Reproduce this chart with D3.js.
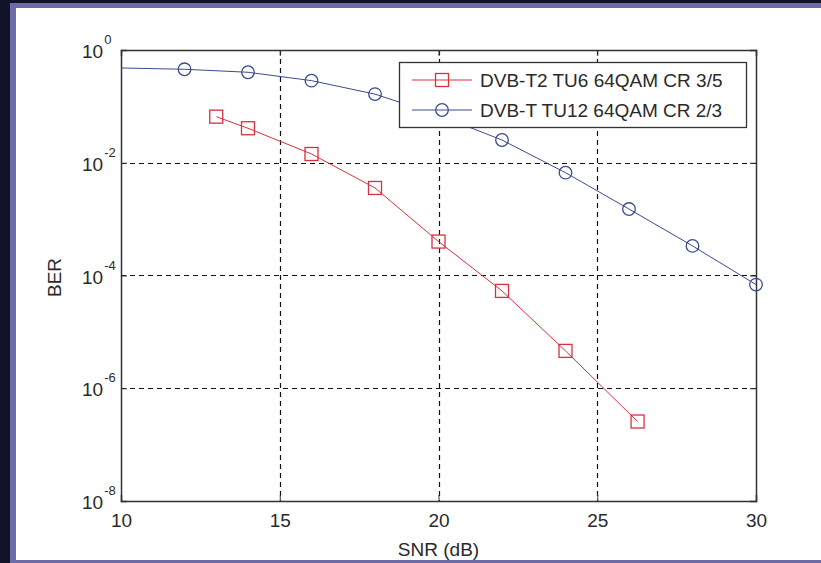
<!DOCTYPE html>
<html><head><meta charset="utf-8">
<script src="https://cdn.jsdelivr.net/npm/d3@7"></script>
<style>
html,body{margin:0;padding:0;background:#12112a;}
svg{display:block;}
text{font-family:"Liberation Sans",Arial,sans-serif;fill:#2a2a2a;}
</style></head><body>
<svg id="c" width="821" height="563"></svg>
<script>
// ---- data ----
const xTicks = [10, 15, 20, 25, 30];
const yTickExps = [0, -2, -4, -6, -8];
const redName = "DVB-T2 TU6 64QAM CR 3/5";
const redSNR = [13, 14, 16, 18, 20, 22, 24, 26.27];
const redBER = [0.0657, 0.0409, 0.0143, 3.57e-3, 4.0e-4, 5.33e-5, 4.6e-6, 2.57e-7];
const blueName = "DVB-T TU12 64QAM CR 2/3";
const blueSNR = [10, 12, 14, 16, 18, 20, 22, 24, 26, 28, 30];
const blueBER = [0.48, 0.455, 0.403, 0.286, 0.165, 0.070, 0.0253, 6.67e-3, 1.51e-3, 3.35e-4, 6.9e-5];
const blueMarker = [false, true, true, true, true, true, true, true, true, true, true];

const svg = d3.select("#c");
// frame
svg.append("rect").attr("x",0).attr("y",0).attr("width",821).attr("height",563).attr("fill","#12112a");
svg.append("rect").attr("x",10).attr("y",3).attr("width",811).attr("height",560).attr("fill","#6d6aa8");
svg.append("rect").attr("x",16).attr("y",8).attr("width",805).attr("height",552).attr("fill","#ffffff");

const L=121, R=756, T=50, B=501;
const x = d3.scaleLinear().domain([10,30]).range([L,R]);
const y = d3.scaleLog().domain([1e-8,1]).range([B,T]);
const yVals = yTickExps.map(e => Math.pow(10,e));

// grid
const grid = svg.append("g").attr("stroke","#111").attr("stroke-width",1.2).attr("stroke-dasharray","5,4");
grid.selectAll("line.gx").data(xTicks.slice(1,-1)).join("line")
  .attr("x1",d=>Math.round(x(d))+0.5).attr("x2",d=>Math.round(x(d))+0.5).attr("y1",T).attr("y2",B);
grid.selectAll("line.gy").data(yVals.slice(1,-1)).join("line")
  .attr("y1",d=>Math.round(y(d))+0.5).attr("y2",d=>Math.round(y(d))+0.5).attr("x1",L).attr("x2",R);

// axes
const ax = svg.append("g").attr("transform",`translate(0,${B})`)
  .call(d3.axisBottom(x).tickValues(xTicks).tickSize(-6).tickPadding(13).tickFormat(d3.format("d")));
const axTop = svg.append("g").attr("transform",`translate(0,${T})`)
  .call(d3.axisTop(x).tickValues(xTicks).tickSize(-6).tickFormat(""));
const ayl = svg.append("g").attr("transform",`translate(${L},0)`)
  .call(d3.axisLeft(y).tickValues(yVals).tickSize(-6).tickPadding(19).tickFormat(""));
const ayr = svg.append("g").attr("transform",`translate(${R},0)`)
  .call(d3.axisRight(y).tickValues(yVals).tickSize(-6).tickFormat(""));
[ax,axTop,ayl,ayr].forEach(g=>{
  g.select(".domain").attr("stroke","#333").attr("stroke-width",1.5);
  g.selectAll(".tick line").attr("stroke","#333");
  g.selectAll("text").attr("font-size",19).attr("font-family","Liberation Sans, Arial, sans-serif").attr("fill","#2a2a2a");
});
// y labels with superscripts
yTickExps.forEach(e=>{
  const t = svg.append("text").attr("x",102).attr("y",y(Math.pow(10,e))+8).attr("font-size",19).attr("text-anchor","start");
  t.append("tspan").attr("x",82).text("10");
  t.append("tspan").attr("dy",-14).attr("dx",1).attr("font-size",13).text(String(e));
});

// axis titles
svg.append("text").attr("x",(L+R)/2).attr("y",556).attr("text-anchor","middle").attr("font-size",19).text("SNR (dB)");
svg.append("text").attr("transform",`translate(61,${(T+B)/2+2}) rotate(-90)`).attr("text-anchor","middle").attr("font-size",19).text("BER");

// series
const red = "#d8303f", blue = "#3d4a90";
const line = d3.line().x(d=>x(d[0])).y(d=>y(d[1]));
const redPts = redSNR.map((s,i)=>[s,redBER[i]]);
const bluePts = blueSNR.map((s,i)=>[s,blueBER[i]]);
svg.append("path").attr("d",line(bluePts)).attr("fill","none").attr("stroke",blue).attr("stroke-width",1);
svg.append("path").attr("d",line(redPts)).attr("fill","none").attr("stroke",red).attr("stroke-width",1);
svg.selectAll("circle.b").data(bluePts.filter((d,i)=>blueMarker[i])).join("circle")
  .attr("cx",d=>x(d[0])).attr("cy",d=>y(d[1])).attr("r",6.3).attr("fill","none").attr("stroke",blue).attr("stroke-width",1.3);
svg.selectAll("rect.r").data(redPts).join("rect")
  .attr("x",d=>x(d[0])-6.5).attr("y",d=>y(d[1])-6.5).attr("width",13).attr("height",13)
  .attr("fill","none").attr("stroke",red).attr("stroke-width",1.3);

// legend
const lg = svg.append("g");
lg.append("rect").attr("x",399.5).attr("y",62.5).attr("width",347).attr("height",65).attr("fill","#fff").attr("stroke","#333").attr("stroke-width",1.3);
const items = [{name:redName,c:red,m:"sq"},{name:blueName,c:blue,m:"ci"}];
items.forEach((it,i)=>{
  const yy = 80 + i*30;
  lg.append("line").attr("x1",412).attr("x2",472).attr("y1",yy).attr("y2",yy).attr("stroke",it.c).attr("stroke-width",1);
  if(it.m==="sq") lg.append("rect").attr("x",442-6.5).attr("y",yy-6.5).attr("width",13).attr("height",13).attr("fill","none").attr("stroke",it.c).attr("stroke-width",1.3);
  else lg.append("circle").attr("cx",442).attr("cy",yy).attr("r",6.3).attr("fill","none").attr("stroke",it.c).attr("stroke-width",1.3);
  lg.append("text").attr("x",480).attr("y",yy+7).attr("font-size",19).text(it.name);
});
</script>
</body></html>
